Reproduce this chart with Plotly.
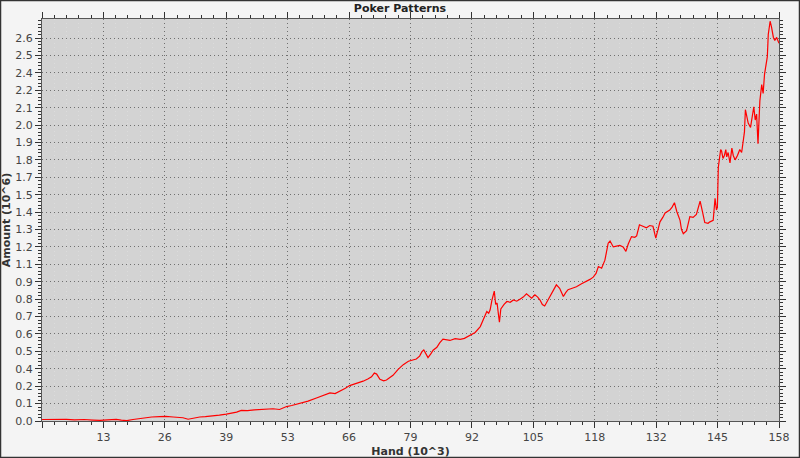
import plotly.graph_objects as go

# ---- data (hands in thousands, amount in millions) ----
hands = [0.0, 2.0, 4.0, 5.2, 7.0, 9.0, 11.0, 12.4, 14.0, 15.9, 17.0, 18.1, 19.5, 20.9, 22.5, 23.5,
         25.2, 26.5, 28.1, 29.5, 30.2, 31.3, 32.5, 33.8, 35.0, 36.6, 38.0, 39.5, 40.5, 41.7, 42.7,
         44.0, 45.5, 46.7, 48.0, 49.5, 50.9, 52.4, 53.5, 55.2, 57.0, 58.8, 60.0, 61.7, 62.8, 63.8,
         65.0, 65.9, 67.2, 68.8, 69.8, 70.6, 71.2, 71.7, 72.4, 73.2, 73.8, 75.2, 76.3, 77.4, 78.5,
         79.5, 80.2, 80.9, 81.4, 81.8, 82.3, 82.7, 83.3, 83.8, 84.6, 85.2, 85.9, 86.7, 87.4, 88.5,
         89.6, 90.5, 91.7, 92.8, 93.9, 94.6, 95.3, 95.7, 96.0, 96.4, 96.9, 97.2, 97.5, 97.8, 98.0,
         98.3, 98.5, 99.0, 99.6, 100.3, 101.0, 101.7, 102.4, 103.1, 103.8, 104.4, 104.9, 105.6,
         106.2, 106.7, 107.2, 107.7, 108.2, 108.8, 109.5, 110.2, 110.9, 111.3, 111.7, 112.2, 112.7,
         113.6, 114.5, 115.6, 116.7, 117.4, 118.1, 118.7, 119.2, 119.9, 120.6, 121.0, 121.3, 121.7,
         122.4, 123.1, 123.8, 124.5, 125.1, 125.6, 126.3, 127.0, 127.4, 128.0, 128.7, 129.5, 130.2,
         130.9, 131.5, 132.0, 132.4, 133.0, 133.5, 134.5, 135.0, 135.5, 136.0, 136.7, 137.0, 137.4,
         138.1, 138.8, 139.5, 140.2, 140.6, 141.0, 141.5, 142.0, 142.7, 143.1, 143.8, 144.2, 144.5,
         144.7, 144.9, 145.1, 145.4, 145.6, 145.9, 146.2, 146.5, 146.7, 147.0, 147.4, 147.8, 148.1,
         148.5, 149.0, 149.5, 149.9, 150.2, 150.5, 150.7, 151.0, 151.3, 151.8, 152.2, 152.5, 152.8,
         153.1, 153.4, 153.8, 154.2, 154.5, 154.8, 155.1, 155.4, 155.6, 156.0, 156.3, 156.7, 157.0,
         157.4, 157.9]
amount = [0.010, 0.012, 0.009, 0.011, 0.008, 0.010, 0.006, 0.004, 0.008, 0.011, 0.006, 0.002, 0.010,
          0.017, 0.022, 0.027, 0.029, 0.031, 0.027, 0.025, 0.022, 0.012, 0.020, 0.027, 0.030, 0.033,
          0.040, 0.047, 0.052, 0.060, 0.072, 0.070, 0.075, 0.078, 0.081, 0.083, 0.078, 0.098, 0.105,
          0.118, 0.135, 0.156, 0.170, 0.190, 0.186, 0.200, 0.222, 0.240, 0.252, 0.270, 0.285, 0.300,
          0.325, 0.318, 0.283, 0.272, 0.278, 0.310, 0.350, 0.382, 0.405, 0.416, 0.420, 0.440, 0.470,
          0.482, 0.450, 0.430, 0.455, 0.480, 0.500, 0.530, 0.555, 0.548, 0.546, 0.558, 0.553, 0.560,
          0.578, 0.600, 0.640, 0.690, 0.742, 0.730, 0.752, 0.820, 0.880, 0.790, 0.800, 0.720, 0.670,
          0.760, 0.770, 0.790, 0.810, 0.805, 0.820, 0.812, 0.826, 0.840, 0.862, 0.845, 0.833, 0.855,
          0.840, 0.820, 0.790, 0.780, 0.810, 0.844, 0.880, 0.923, 0.900, 0.870, 0.844, 0.870, 0.890,
          0.900, 0.910, 0.930, 0.945, 0.960, 0.975, 1.000, 1.047, 1.036, 1.090, 1.150, 1.205, 1.220,
          1.180, 1.185, 1.190, 1.180, 1.150, 1.200, 1.250, 1.245, 1.255, 1.330, 1.320, 1.310, 1.325,
          1.320, 1.240, 1.300, 1.350, 1.380, 1.410, 1.430, 1.450, 1.480, 1.420, 1.360, 1.300, 1.270,
          1.290, 1.385, 1.380, 1.400, 1.440, 1.490, 1.420, 1.345, 1.340, 1.350, 1.360, 1.510, 1.430,
          1.450, 1.720, 1.770, 1.840, 1.830, 1.780, 1.800, 1.840, 1.790, 1.820, 1.750, 1.850, 1.800,
          1.770, 1.800, 1.840, 1.820, 1.900, 1.960, 2.110, 2.050, 2.020, 1.990, 2.060, 2.130, 2.040,
          2.080, 1.880, 2.170, 2.280, 2.220, 2.350, 2.420, 2.470, 2.620, 2.710, 2.670, 2.600, 2.580,
          2.600, 2.560]

x_tick_labels = ["", "13", "26", "39", "53", "66", "79", "92", "105", "118", "132", "145", "158"]
y_tick_labels = ["0.0", "0.1", "0.2", "0.4", "0.5", "0.6", "0.7", "0.8", "0.9", "1.1", "1.2", "1.3",
                 "1.4", "1.5", "1.7", "1.8", "1.9", "2.0", "2.1", "2.2", "2.4", "2.5", "2.6"]

# ---- axis scales ----
x_max = 157.9
x_step = x_max / 12
y_step = 0.118
y_max = 2.725
x_tickvals = [i * x_step for i in range(len(x_tick_labels))]
y_tickvals = [i * y_step for i in range(len(y_tick_labels))]

fig = go.Figure()
fig.add_trace(go.Scatter(x=hands, y=amount, mode="lines",
                         line=dict(color="#ff0000", width=1.2), showlegend=False))

axis_common = dict(
    showline=True, linecolor="#555555", linewidth=1, mirror="ticks",
    ticks="outside", tickcolor="#333333", tickwidth=1, ticklen=6,
    showgrid=True, gridcolor="#707070", griddash="1px,3px", gridwidth=1,
    zeroline=False, automargin=False,
    tickfont=dict(family="DejaVu Sans", size=11, color="#444444"),
)

fig.update_xaxes(
    range=[0, x_max], tickmode="array", tickvals=x_tickvals, ticktext=x_tick_labels,
    minor=dict(tick0=0, dtick=x_step / 5, ticks="outside", ticklen=3, tickcolor="#333333",
               showgrid=True, gridcolor="#dcdcdc", griddash="1px,3px", gridwidth=1),
    title=dict(text="<b>Hand (10^3)</b>", font=dict(family="DejaVu Sans", size=11, color="#333333"),
               standoff=4),
    **axis_common,
)
fig.update_yaxes(
    range=[0, y_max], tickmode="array", tickvals=y_tickvals, ticktext=y_tick_labels,
    minor=dict(tick0=0, dtick=y_step / 5, ticks="outside", ticklen=3, tickcolor="#333333",
               showgrid=False),
    title=dict(text="<b>Amount (10^6)</b>", font=dict(family="DejaVu Sans", size=11, color="#333333"),
               standoff=2),
    **axis_common,
)

ml, mr, mt, mb = 42, 21, 19, 37
pw, ph = 800 - ml - mr, 458 - mt - mb

fig.update_layout(
    width=800, height=458,
    margin=dict(l=ml, r=mr, t=mt, b=mb, pad=0, autoexpand=False),
    paper_bgcolor="#f4f4f4",
    plot_bgcolor="#d3d3d3",
    title=dict(text="<b>Poker Patterns</b>", x=0.5, xref="container", xanchor="center",
               y=1 - 8 / 458, yref="container", yanchor="middle",
               font=dict(family="DejaVu Sans", size=11, color="#222222")),
    shapes=[dict(type="rect", xref="paper", yref="paper",
                 x0=-(ml - 0.5) / pw, x1=1 + (mr - 0.5) / pw,
                 y0=-(mb - 0.5) / ph, y1=1 + (mt - 0.5) / ph,
                 line=dict(color="#333333", width=1.5), layer="above")],
)

fig.write_html("out.html", config={"displayModeBar": False},
               post_script="document.body.style.margin='0';document.body.style.overflow='hidden';")
